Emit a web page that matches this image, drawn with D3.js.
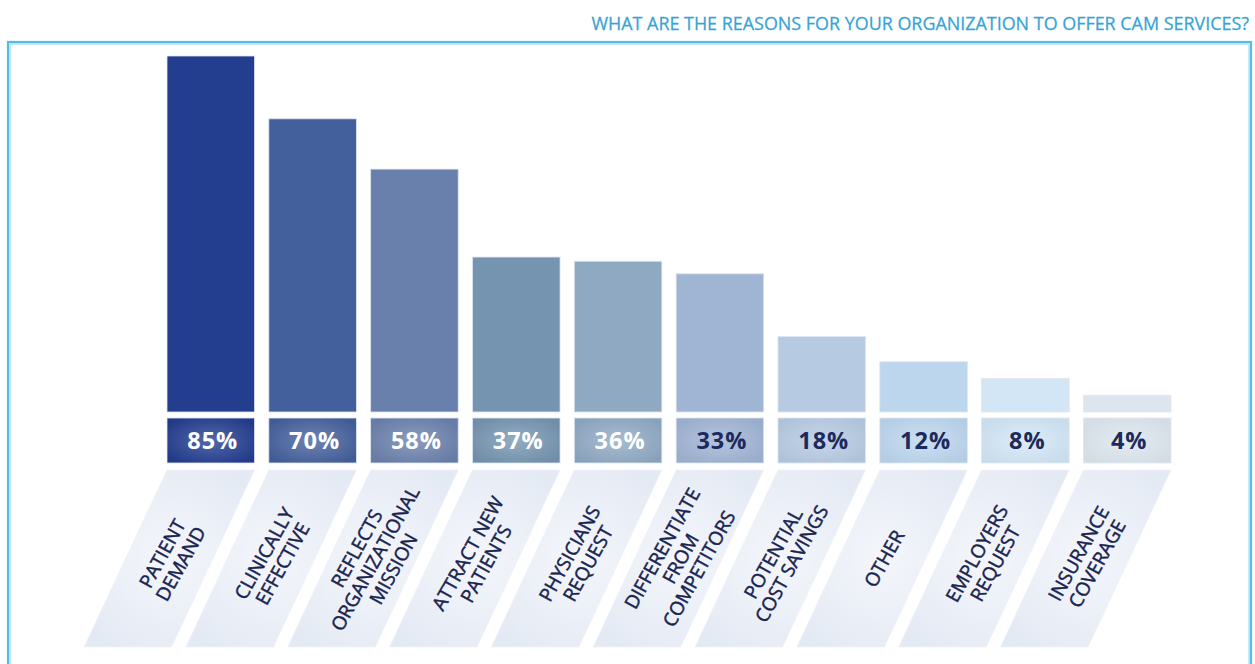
<!DOCTYPE html>
<html>
<head>
<meta charset="utf-8">
<script src="https://cdn.jsdelivr.net/npm/d3@7"></script>
<style>
  html, body { margin: 0; padding: 0; background: #ffffff; }
  svg { display: block; }
</style>
</head>
<body>
<svg id="chart" width="1255" height="664"></svg>
<script>
// ---------- data ----------
const title = "WHAT ARE THE REASONS FOR YOUR ORGANIZATION TO OFFER CAM SERVICES?";
const categories = [
  "Patient Demand", "Clinically Effective", "Reflects Organizational Mission",
  "Attract New Patients", "Physicians Request", "Differentiate From Competitors",
  "Potential Cost Savings", "Other", "Employers Request", "Insurance Coverage"
];
const labelLines = [
  ["PATIENT", "DEMAND"],
  ["CLINICALLY", "EFFECTIVE"],
  ["REFLECTS", "ORGANIZATIONAL", "MISSION"],
  ["ATTRACT NEW", "PATIENTS"],
  ["PHYSICIANS", "REQUEST"],
  ["DIFFERENTIATE", "FROM", "COMPETITORS"],
  ["POTENTIAL", "COST SAVINGS"],
  ["OTHER"],
  ["EMPLOYERS", "REQUEST"],
  ["INSURANCE", "COVERAGE"]
];
const values = [85, 70, 58, 37, 36, 33, 18, 12, 8, 4];
const valueLabels = ["85%", "70%", "58%", "37%", "36%", "33%", "18%", "12%", "8%", "4%"];
const barColors = ["#233e8f", "#44609c", "#6a80ac", "#7594b0", "#8fa9c3",
                   "#a0b4d4", "#b6cbe2", "#bcd6ee", "#d2e6f6", "#dde6ee"];
const valueTextColors = ["#ffffff", "#ffffff", "#ffffff", "#ffffff", "#ffffff",
                         "#1c2a5e", "#1c2a5e", "#1c2a5e", "#1c2a5e", "#1c2a5e"];

// ---------- layout ----------
const svg = d3.select("#chart");
const defs = svg.append("defs");

const x = d3.scaleBand().domain(categories).range([167, 1171]).paddingInner(0.14).paddingOuter(0);
const y = d3.scaleLinear().domain([0, 85]).range([412, 56]);

const boxTop = 418, boxBottom = 463;
const paraTop = 470, paraBottom = 647, slant = 83;

// frame
svg.append("rect")
  .attr("x", 10).attr("y", 44).attr("width", 1239).attr("height", 700)
  .attr("fill", "none").attr("stroke", "#c4e8f6").attr("stroke-width", 2);
svg.append("rect")
  .attr("x", 8).attr("y", 42).attr("width", 1243).attr("height", 700)
  .attr("fill", "none").attr("stroke", "#55bde4").attr("stroke-width", 2.2);

// title (condensed horizontally to the reference width)
const titleG = svg.append("g");
const titleText = titleG.append("text")
  .attr("x", 0).attr("y", 0)
  .attr("text-anchor", "end")
  .attr("font-family", "'Open Sans', sans-serif")
  .attr("font-size", 18.5)
  .attr("fill", "#35a4d6")
  .attr("stroke", "#35a4d6").attr("stroke-width", 0.25)
  .text(title);
const natural = titleText.node().getComputedTextLength();
const targetW = 658;
titleG.attr("transform", `translate(1249,30) scale(${targetW / natural},1)`);

// gradients
categories.forEach((c, i) => {
  const base = d3.color(barColors[i]);
  const g = defs.append("radialGradient").attr("id", "vg" + i)
    .attr("cx", "50%").attr("cy", "50%").attr("r", "60%");
  g.append("stop").attr("offset", "0%").attr("stop-color", d3.interpolateRgb(base, "#ffffff")(0.22));
  g.append("stop").attr("offset", "100%").attr("stop-color", base.darker(0.12).formatHex());
});
const pg = defs.append("radialGradient").attr("id", "pg")
  .attr("cx", "50%").attr("cy", "50%").attr("r", "60%");
pg.append("stop").attr("offset", "0%").attr("stop-color", "#f4f6fb");
pg.append("stop").attr("offset", "100%").attr("stop-color", "#e4eaf4");

// bars
svg.append("g").selectAll("rect")
  .data(values)
  .join("rect")
  .attr("x", (d, i) => x(categories[i]))
  .attr("y", d => y(d))
  .attr("width", x.bandwidth())
  .attr("height", d => y(0) - y(d))
  .attr("fill", (d, i) => barColors[i])
  .attr("stroke", "#dfe5f0").attr("stroke-width", 0.8);

// value boxes
const vb = svg.append("g").selectAll("g")
  .data(values)
  .join("g");
vb.append("rect")
  .attr("x", (d, i) => x(categories[i]))
  .attr("y", boxTop)
  .attr("width", x.bandwidth())
  .attr("height", boxBottom - boxTop)
  .attr("fill", (d, i) => `url(#vg${i})`)
  .attr("stroke", "#dfe5f0").attr("stroke-width", 0.8);
vb.append("text")
  .attr("x", (d, i) => x(categories[i]) + x.bandwidth() / 2 + 2)
  .attr("y", (boxTop + boxBottom) / 2 + 8.5)
  .attr("text-anchor", "middle")
  .attr("font-family", "'Open Sans', sans-serif")
  .attr("font-weight", "bold")
  .attr("font-size", 23.5)
  .attr("letter-spacing", 1)
  .attr("fill", (d, i) => valueTextColors[i])
  .text((d, i) => valueLabels[i]);

// label parallelograms
const lg = svg.append("g").selectAll("g")
  .data(categories)
  .join("g");
lg.append("path")
  .attr("d", c => {
    const x0 = x(c), x1 = x(c) + x.bandwidth();
    return `M${x0},${paraTop}L${x1},${paraTop}L${x1 - slant},${paraBottom}L${x0 - slant},${paraBottom}Z`;
  })
  .attr("fill", "url(#pg)")
  .attr("stroke", "#f0f3f8").attr("stroke-width", 0.8);

const lineH = 21;
lg.append("g")
  .attr("transform", c => {
    const cx = x(c) + x.bandwidth() / 2 - slant / 2 + 2;
    const cy = (paraTop + paraBottom) / 2;
    return `translate(${cx},${cy}) rotate(-61)`;
  })
  .each(function(c, i) {
    const lines = labelLines[i];
    const n = lines.length;
    d3.select(this).selectAll("text")
      .data(lines)
      .join("text")
      .attr("x", 0)
      .attr("y", (t, k) => (k - (n - 1) / 2) * lineH + 7)
      .attr("text-anchor", "middle")
      .attr("font-family", "'Open Sans', sans-serif")
      .attr("font-size", 19)
      .attr("fill", "#18234f")
      .attr("stroke", "#18234f").attr("stroke-width", 0.45)
      .text(t => t);
  });
</script>
</body>
</html>
